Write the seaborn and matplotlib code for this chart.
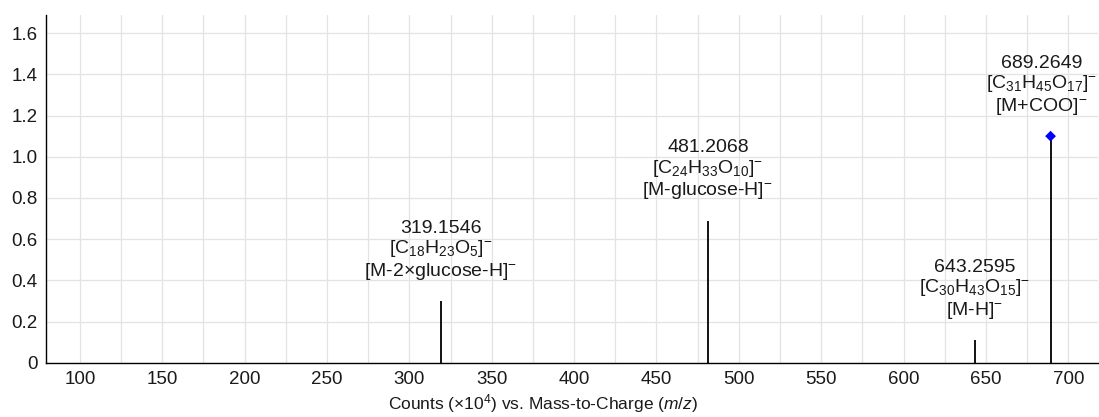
import matplotlib
matplotlib.use("Agg")
import matplotlib.pyplot as plt
import numpy as np
import pandas as pd
import seaborn as sns
from matplotlib.ticker import MultipleLocator, FuncFormatter

# peak data
mz = [319.1546, 481.2068, 643.2595, 689.2649]
intensity = [0.30, 0.69, 0.11, 1.10]
formulas = [
    r"[C$_{18}$H$_{23}$O$_{5}$]$^{-}$",
    r"[C$_{24}$H$_{33}$O$_{10}$]$^{-}$",
    r"[C$_{30}$H$_{43}$O$_{15}$]$^{-}$",
    r"[C$_{31}$H$_{45}$O$_{17}$]$^{-}$",
]
ions = [
    r"[M-2×glucose-H]$^{-}$",
    r"[M-glucose-H]$^{-}$",
    r"[M-H]$^{-}$",
    r"[M+COO]$^{-}$",
]
precursor_mz = [689.2649]
precursor_int = [1.10]

sns.set_theme(style="whitegrid")
plt.rcParams["font.family"] = ["Liberation Sans", "DejaVu Sans"]
plt.rcParams["mathtext.fontset"] = "custom"
plt.rcParams["mathtext.rm"] = "Liberation Sans"
plt.rcParams["mathtext.it"] = "Liberation Sans:italic"
plt.rcParams["mathtext.default"] = "regular"

peaks = pd.DataFrame({"mz": mz, "intensity": intensity})

fig, ax = plt.subplots(figsize=(10.99, 4.17), dpi=100)
fig.subplots_adjust(left=0.042, right=0.999, top=0.965, bottom=0.13)

ax.vlines(peaks["mz"], 0, peaks["intensity"], color="black", linewidth=1.3, zorder=3)
sns.scatterplot(x=precursor_mz, y=precursor_int, marker="D", color="#0000ff",
                s=30, edgecolor="none", ax=ax, zorder=4)

labels = []
for x, y, f, ion in zip(mz, intensity, formulas, ions):
    t = ax.annotate(f"{x:.4f}\n{f}\n{ion}", xy=(x, y), xytext=(0, 14),
                    textcoords="offset points", ha="center", va="bottom",
                    fontsize=14, color="#1a1a1a", linespacing=1.1,
                    annotation_clip=False)
    labels.append(t)

ax.set_xlim(79.5, 718)
ax.set_ylim(0, 1.69)
ax.xaxis.set_major_locator(MultipleLocator(50))
ax.xaxis.set_minor_locator(MultipleLocator(25))
ax.yaxis.set_major_locator(MultipleLocator(0.2))
ax.yaxis.set_major_formatter(FuncFormatter(lambda v, p: "0" if abs(v) < 1e-9 else f"{v:.1f}"))

ax.grid(which="both", color="#e3e3e3", linewidth=0.9)
ax.set_facecolor("white")
for side in ["top", "right"]:
    ax.spines[side].set_visible(False)
for side in ["left", "bottom"]:
    ax.spines[side].set_color("black")
    ax.spines[side].set_linewidth(1.0)

ax.tick_params(axis="both", which="both", direction="out", length=4, width=1,
               color="black", labelsize=13.5, labelcolor="#1a1a1a", pad=2)

ax.set_xlabel(r"Counts (×10$^{4}$) vs. Mass-to-Charge ($\it{m/z}$)", fontsize=12.5,
              color="#1a1a1a")
ax.xaxis.set_label_coords(0.472, -0.085)
ax.set_ylabel("")

# keep the right-most label inside the figure
fig.canvas.draw()
renderer = fig.canvas.get_renderer()
fig_w = fig.bbox.width
for t in labels:
    bb = t.get_window_extent(renderer)
    over = bb.x1 - (fig_w - 2)
    if over > 0:
        t.set_position((-over * 72 / fig.dpi, 14))

fig.savefig("out.png", dpi=100)
